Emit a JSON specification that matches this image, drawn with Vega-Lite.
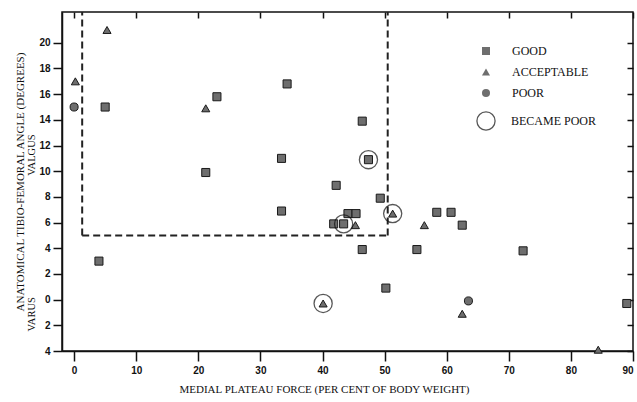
{
  "$schema": "https://vega.github.io/schema/vega-lite/v6.json",
  "width": 571,
  "height": 339,
  "autosize": {"type": "none"},
  "padding": {"left": 62, "top": 12, "right": 4, "bottom": 51},
  "background": "white",
  "config": {
    "view": {"stroke": "#111", "strokeWidth": 1.5},
    "axis": {"grid": false, "domainColor": "#111", "tickColor": "#111", "labelColor": "#111", "titleColor": "#111", "tickWidth": 1.5, "domainWidth": 1.5}
  },
  "datasets": {
    "points": [
      {"force": 5, "angle": 15, "result": "GOOD", "became": false},
      {"force": 23, "angle": 15.8, "result": "GOOD", "became": false},
      {"force": 34.3, "angle": 16.8, "result": "GOOD", "became": false},
      {"force": 21.2, "angle": 9.9, "result": "GOOD", "became": false},
      {"force": 33.4, "angle": 11, "result": "GOOD", "became": false},
      {"force": 33.4, "angle": 6.9, "result": "GOOD", "became": false},
      {"force": 4, "angle": 3, "result": "GOOD", "became": false},
      {"force": 46.4, "angle": 13.9, "result": "GOOD", "became": false},
      {"force": 47.4, "angle": 10.9, "result": "GOOD", "became": true},
      {"force": 42.2, "angle": 8.9, "result": "GOOD", "became": false},
      {"force": 49.3, "angle": 7.9, "result": "GOOD", "became": false},
      {"force": 44.1, "angle": 6.7, "result": "GOOD", "became": false},
      {"force": 45.4, "angle": 6.7, "result": "GOOD", "became": false},
      {"force": 41.8, "angle": 5.9, "result": "GOOD", "became": false},
      {"force": 43.4, "angle": 5.9, "result": "GOOD", "became": true},
      {"force": 46.4, "angle": 3.9, "result": "GOOD", "became": false},
      {"force": 55.2, "angle": 3.9, "result": "GOOD", "became": false},
      {"force": 58.4, "angle": 6.8, "result": "GOOD", "became": false},
      {"force": 60.7, "angle": 6.8, "result": "GOOD", "became": false},
      {"force": 62.5, "angle": 5.8, "result": "GOOD", "became": false},
      {"force": 72.3, "angle": 3.8, "result": "GOOD", "became": false},
      {"force": 50.2, "angle": 0.9, "result": "GOOD", "became": false},
      {"force": 89, "angle": -0.3, "result": "GOOD", "became": false},
      {"force": 5.3, "angle": 21, "result": "ACCEPTABLE", "became": false},
      {"force": 0.2, "angle": 17, "result": "ACCEPTABLE", "became": false},
      {"force": 21.2, "angle": 14.9, "result": "ACCEPTABLE", "became": false},
      {"force": 45.3, "angle": 5.8, "result": "ACCEPTABLE", "became": false},
      {"force": 51.3, "angle": 6.7, "result": "ACCEPTABLE", "became": true},
      {"force": 56.4, "angle": 5.8, "result": "ACCEPTABLE", "became": false},
      {"force": 40.1, "angle": -0.3, "result": "ACCEPTABLE", "became": true},
      {"force": 62.5, "angle": -1.1, "result": "ACCEPTABLE", "became": false},
      {"force": 84.4, "angle": -3.9, "result": "ACCEPTABLE", "became": false},
      {"force": 0, "angle": 15, "result": "POOR", "became": false},
      {"force": 63.5, "angle": -0.1, "result": "POOR", "became": false}
    ],
    "region": [
      {"force_start": 1.3, "force_end": 50.5, "angle_floor": 5, "angle_top": 22.4}
    ]
  },
  "layer": [
    {
      "data": {"name": "region"},
      "mark": {"type": "rule", "strokeDash": [7, 4], "strokeWidth": 2, "color": "#222"},
      "encoding": {
        "x": {"field": "force_start", "type": "quantitative", "scale": {"domain": [-1.95, 90], "nice": false, "zero": false}, "axis": null},
        "y": {"field": "angle_floor", "type": "quantitative", "scale": {"domain": [-4, 22.4], "nice": false, "zero": false},
              "axis": {"orient": "right", "values": [-4, -2, 0, 2, 4, 6, 8, 10, 12, 14, 16, 18, 20], "labels": false, "domain": false, "tickSize": -6, "title": null}},
        "y2": {"field": "angle_top"}
      }
    },
    {
      "data": {"name": "region"},
      "mark": {"type": "rule", "strokeDash": [7, 4], "strokeWidth": 2, "color": "#222"},
      "encoding": {
        "x": {"field": "force_end", "type": "quantitative", "scale": {"domain": [-1.95, 90], "nice": false, "zero": false}, "axis": null},
        "y": {"field": "angle_floor", "type": "quantitative", "scale": {"domain": [-4, 22.4], "nice": false, "zero": false}, "axis": null},
        "y2": {"field": "angle_top"}
      }
    },
    {
      "data": {"name": "region"},
      "mark": {"type": "rule", "strokeDash": [7, 4], "strokeWidth": 2, "color": "#222"},
      "encoding": {
        "x": {"field": "force_start", "type": "quantitative", "scale": {"domain": [-1.95, 90], "nice": false, "zero": false}, "axis": null},
        "x2": {"field": "force_end"},
        "y": {"field": "angle_floor", "type": "quantitative", "scale": {"domain": [-4, 22.4], "nice": false, "zero": false}, "axis": null}
      }
    },
    {
      "data": {"name": "points"},
      "mark": {"type": "point", "filled": true, "opacity": 1, "fill": "#6e6e6e", "stroke": "#1a1a1a", "strokeWidth": 1, "size": 65, "clip": false},
      "encoding": {
        "x": {"field": "force", "type": "quantitative", "scale": {"domain": [-1.95, 90], "nice": false, "zero": false},
              "axis": {"orient": "bottom", "values": [0, 10, 20, 30, 40, 50, 60, 70, 80, 90], "tickSize": 10, "labelPadding": 4,
                       "labelFont": "Liberation Sans", "labelFontWeight": "bold", "labelFontSize": 10,
                       "title": "MEDIAL PLATEAU FORCE (PER CENT OF BODY WEIGHT)", "titleFont": "Liberation Serif", "titleFontWeight": "normal",
                       "titleFontSize": 11, "titlePadding": 8, "titleX": 262, "titleAlign": "center"}},
        "y": {"field": "angle", "type": "quantitative", "scale": {"domain": [-4, 22.4], "nice": false, "zero": false},
              "axis": {"orient": "left", "values": [-4, -2, 0, 2, 4, 6, 8, 10, 12, 14, 16, 18, 20], "labelExpr": "abs(datum.value)",
                       "tickSize": 9, "labelPadding": 3, "labelFont": "Liberation Sans", "labelFontWeight": "bold", "labelFontSize": 10, "title": null}},
        "shape": {"field": "result", "type": "nominal",
                  "scale": {"domain": ["GOOD", "ACCEPTABLE", "POOR"], "range": ["square", "triangle-up", "circle"]},
                  "legend": {"orient": "none", "legendX": 418, "legendY": 33, "title": null, "labelFont": "Liberation Serif", "labelFontSize": 12,
                             "labelColor": "#111", "labelOffset": 20, "rowPadding": 8, "symbolSize": 65,
                             "symbolFillColor": "#6e6e6e", "symbolStrokeColor": "#1a1a1a", "symbolStrokeWidth": 1}}
      }
    },
    {
      "data": {"name": "points"},
      "transform": [{"filter": "datum.became"}],
      "mark": {"type": "point", "filled": false, "size": 330, "strokeWidth": 1.3, "clip": false},
      "encoding": {
        "x": {"field": "force", "type": "quantitative", "scale": {"domain": [-1.95, 90], "nice": false, "zero": false},
              "axis": {"orient": "top", "values": [0, 10, 20, 30, 40, 50, 60, 70, 80, 90], "labels": false, "domain": false, "tickSize": -6, "title": null}},
        "y": {"field": "angle", "type": "quantitative", "scale": {"domain": [-4, 22.4], "nice": false, "zero": false},
              "axis": {"orient": "left", "values": [11.3, -1.1], "labelExpr": "datum.value > 5 ? 'VALGUS' : 'VARUS'",
                       "domain": false, "ticks": false, "labelAngle": -90, "labelAlign": "center", "labelBaseline": "bottom", "labelPadding": 26,
                       "labelFont": "Liberation Serif", "labelFontSize": 10.5,
                       "title": "ANATOMICAL TIBIO-FEMORAL ANGLE (DEGREES)", "titleFont": "Liberation Serif", "titleFontWeight": "normal",
                       "titleFontSize": 11, "titlePadding": 1}},
        "stroke": {"datum": "BECAME POOR", "type": "nominal", "scale": {"range": ["#111"]},
                   "legend": {"orient": "none", "legendX": 414, "legendY": 99, "title": null, "symbolType": "circle", "symbolSize": 330,
                              "symbolFillColor": "transparent", "symbolStrokeWidth": 1.3, "labelFont": "Liberation Serif", "labelFontSize": 12,
                              "labelColor": "#111", "labelOffset": 15}}
      }
    }
  ],
  "resolve": {"axis": {"x": "independent", "y": "independent"}}
}
